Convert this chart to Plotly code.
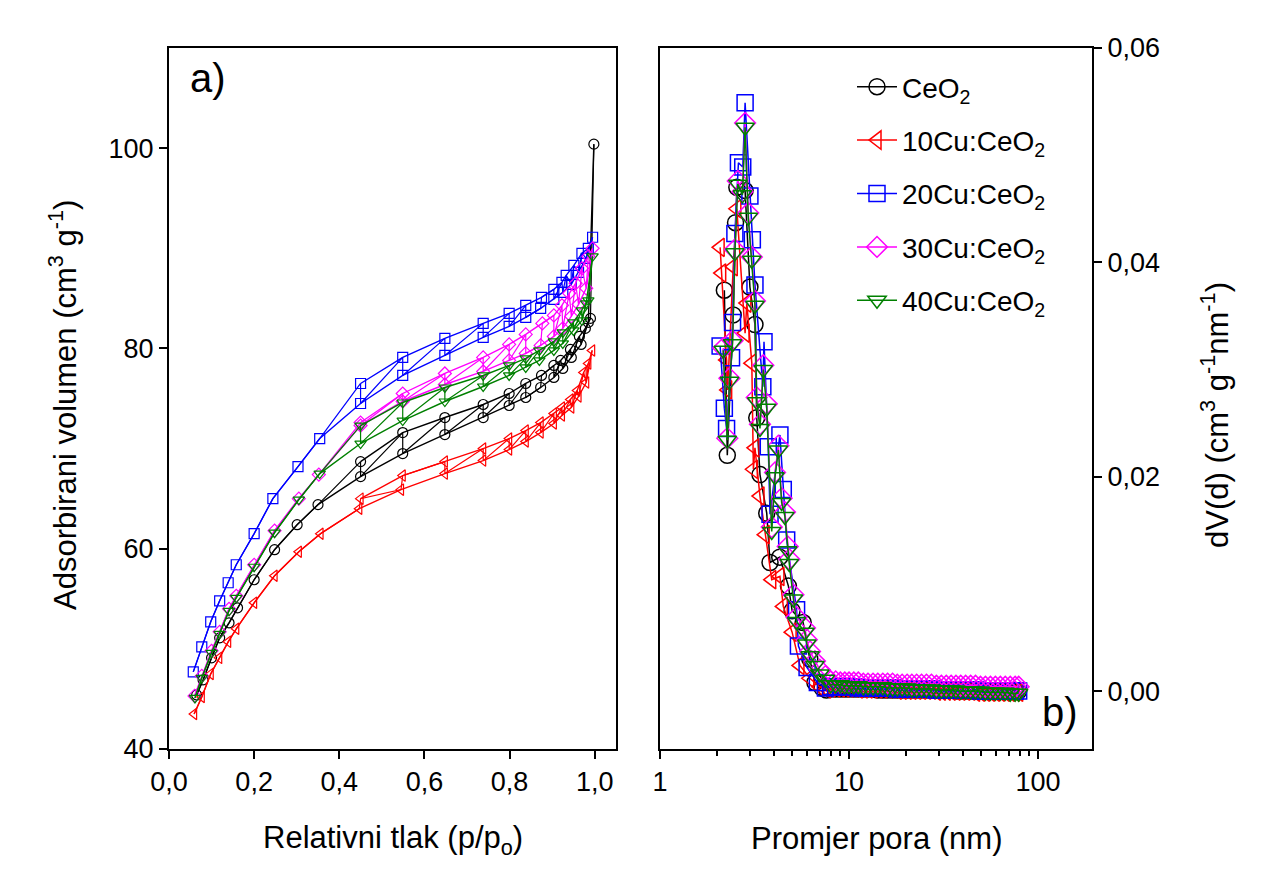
import plotly.graph_objects as go

# ---------------- panel a) isotherms (p/p0, cm3/g) ----------------
names = ["CeO<sub>2</sub>", "10Cu:CeO<sub>2</sub>", "20Cu:CeO<sub>2</sub>",
         "30Cu:CeO<sub>2</sub>", "40Cu:CeO<sub>2</sub>"]
colors = ["#000000", "#ff0000", "#0000ff", "#ff00ff", "#008000"]
symbols = ["circle-open", "triangle-left-open", "square-open", "diamond-open", "triangle-down-open"]

ceo2_ads_x = [0.065, 0.08, 0.1, 0.119, 0.141, 0.161, 0.2, 0.248, 0.301, 0.35, 0.45, 0.549, 0.648, 0.738, 0.799, 0.838, 0.873, 0.904, 0.925, 0.945, 0.968, 0.985, 0.998]
ceo2_ads_y = [45.4, 46.9, 49.1, 51.1, 52.6, 54.1, 56.9, 59.9, 62.4, 64.4, 67.2, 69.5, 71.4, 73.1, 74.3, 75.1, 76.1, 77.1, 78.0, 79.1, 80.4, 82.6, 100.4]
ceo2_des_x = [0.99, 0.978, 0.964, 0.943, 0.92, 0.904, 0.875, 0.838, 0.799, 0.738, 0.648, 0.549, 0.45]
ceo2_des_y = [83.0, 82.0, 81.2, 79.9, 78.8, 78.3, 77.3, 76.5, 75.5, 74.4, 73.1, 71.6, 68.7]

cu10_ads_x = [0.059, 0.077, 0.098, 0.118, 0.139, 0.158, 0.2, 0.248, 0.305, 0.356, 0.447, 0.545, 0.648, 0.738, 0.799, 0.838, 0.873, 0.904, 0.923, 0.945, 0.962, 0.98, 0.994]
cu10_ads_y = [43.5, 45.2, 47.5, 49.1, 50.7, 52.0, 54.6, 57.3, 59.7, 61.5, 64.0, 65.9, 67.5, 68.8, 69.9, 70.7, 71.6, 72.5, 73.3, 74.1, 75.2, 76.6, 79.8]
cu10_des_x = [0.985, 0.974, 0.959, 0.943, 0.923, 0.904, 0.873, 0.838, 0.799, 0.738, 0.648, 0.549, 0.45]
cu10_des_y = [78.5, 77.6, 75.8, 74.9, 74.1, 73.5, 72.6, 71.8, 71.0, 70.0, 68.7, 67.3, 65.0]

cu20_ads_x = [0.057, 0.077, 0.098, 0.119, 0.139, 0.158, 0.2, 0.244, 0.303, 0.354, 0.45, 0.549, 0.648, 0.738, 0.799, 0.838, 0.873, 0.904, 0.925, 0.945, 0.962, 0.98, 0.995]
cu20_ads_y = [47.7, 50.2, 52.7, 54.8, 56.6, 58.4, 61.5, 65.0, 68.2, 71.0, 74.5, 77.3, 79.3, 81.1, 82.2, 83.1, 84.0, 84.9, 85.6, 86.4, 87.6, 89.0, 91.1]
cu20_des_x = [0.985, 0.97, 0.951, 0.933, 0.923, 0.904, 0.875, 0.838, 0.799, 0.738, 0.648, 0.549, 0.45]
cu20_des_y = [90.0, 89.5, 88.3, 87.3, 86.6, 85.9, 85.1, 84.3, 83.5, 82.5, 81.0, 79.1, 76.5]

cu30_ads_x = [0.06, 0.077, 0.1, 0.119, 0.141, 0.158, 0.2, 0.248, 0.305, 0.352, 0.45, 0.549, 0.648, 0.738, 0.799, 0.838, 0.873, 0.904, 0.925, 0.945, 0.962, 0.98, 0.995]
cu30_ads_y = [45.3, 47.3, 49.8, 51.7, 54.0, 55.3, 58.4, 61.8, 65.0, 67.4, 72.3, 74.7, 76.4, 77.7, 78.8, 79.5, 80.3, 81.2, 82.0, 83.2, 84.4, 86.0, 90.0]
cu30_des_x = [0.985, 0.97, 0.955, 0.94, 0.923, 0.904, 0.877, 0.838, 0.799, 0.738, 0.648, 0.549, 0.45]
cu30_des_y = [89.2, 88.0, 86.5, 85.5, 84.3, 83.3, 82.5, 81.4, 80.4, 79.1, 77.5, 75.5, 72.6]

cu40_ads_x = [0.061, 0.077, 0.1, 0.119, 0.141, 0.158, 0.2, 0.248, 0.305, 0.354, 0.45, 0.549, 0.648, 0.738, 0.799, 0.838, 0.87, 0.904, 0.925, 0.95, 0.97, 0.98, 0.995]
cu40_ads_y = [45.1, 47.1, 49.6, 51.5, 53.8, 55.1, 58.2, 61.6, 64.9, 67.5, 70.5, 72.8, 74.7, 76.2, 77.3, 78.1, 78.8, 79.8, 80.5, 81.8, 82.8, 84.5, 89.2]
cu40_des_x = [0.985, 0.97, 0.95, 0.925, 0.904, 0.87, 0.838, 0.799, 0.738, 0.648, 0.549, 0.45]
cu40_des_y = [84.8, 83.8, 82.6, 81.6, 80.7, 79.8, 79.0, 78.3, 77.3, 76.1, 74.6, 72.3]

# ---------------- panel b) pore size distribution (nm, cm3 g-1 nm-1) ----------------
tail_d = [8.0, 8.5, 9.0, 9.5, 10.0, 10.6, 11.2, 11.9, 12.6, 13.4, 14.2, 15.1, 16.0, 17.0, 18.0, 19.1, 20.3, 21.5, 22.8, 24.2,
          25.7, 27.3, 29.0, 30.8, 32.7, 34.7, 36.8, 39.0, 41.4, 44.0, 46.7, 49.6, 52.7, 56.0, 59.5, 63.2, 67.1, 71.3, 75.7, 79.0]

ceo2_d = [2.19, 2.27, 2.44, 2.51, 2.55, 2.82, 2.99, 3.18, 3.25, 3.38, 3.67, 3.82, 4.3, 4.78, 5.0, 5.72, 6.2, 6.6, 7.2, 7.6]
ceo2_v = [0.0374, 0.0220, 0.0351, 0.0437, 0.0470, 0.0467, 0.0377, 0.0342, 0.0255, 0.0202, 0.0166, 0.0120, 0.0125, 0.0098, 0.0075, 0.0064, 0.0030, 0.0008, 0.0003, 0.0001]
ceo2_tail = [0.0002, 0.0002, 0.0002, 0.0002, 0.0002, 0.0002, 0.0002, 0.0002, 0.0002, 0.0002, 0.0001, 0.0001, 0.0001, 0.0001, 0.0001, 0.0001, 0.0001, 0.0001, 0.0001, 0.0001,
             0.0001, 0.0001, 0.0001, 0.0001, 0.0001, 0.0001, 0.0000, 0.0000, 0.0000, 0.0000, 0.0000, 0.0000, 0.0000, 0.0000, 0.0000, 0.0000, 0.0000, 0.0000, 0.0000, 0.0000]

cu10_d = [2.08, 2.12, 2.25, 2.28, 2.44, 2.55, 2.82, 2.88, 3.06, 3.12, 3.18, 3.38, 3.60, 3.90, 4.31, 4.49, 5.0, 5.5, 6.2, 7.0, 7.6]
cu10_v = [0.0414, 0.0390, 0.0309, 0.0281, 0.0396, 0.0450, 0.0334, 0.0362, 0.0306, 0.0207, 0.0227, 0.0182, 0.0146, 0.0104, 0.0107, 0.0079, 0.0055, 0.0024, 0.0012, 0.0004, 0.0002]
cu10_tail = [0.0003, 0.0003, 0.0003, 0.0003, 0.0003, 0.0003, 0.0002, 0.0002, 0.0002, 0.0002, 0.0002, 0.0002, 0.0002, 0.0002, 0.0001, 0.0001, 0.0001, 0.0001, 0.0001, 0.0001,
             0.0001, 0.0001, 0.0000, 0.0000, 0.0000, 0.0000, 0.0000, 0.0000, 0.0000, 0.0000, -0.0001, -0.0001, -0.0001, -0.0001, -0.0001, -0.0001, -0.0001, -0.0001, -0.0001, -0.0001]

cu20_d = [2.08, 2.19, 2.25, 2.39, 2.42, 2.49, 2.60, 2.74, 2.82, 2.99, 3.08, 3.18, 3.50, 3.55, 3.74, 3.82, 4.31, 4.49, 4.68, 5.28, 5.4, 6.0, 6.8, 7.5]
cu20_v = [0.0322, 0.0264, 0.0245, 0.0311, 0.0344, 0.0427, 0.0493, 0.0489, 0.0549, 0.0462, 0.0421, 0.0379, 0.0284, 0.0326, 0.0228, 0.0165, 0.0239, 0.0188, 0.0141, 0.0076, 0.0042, 0.0022, 0.0008, 0.0003]
cu20_tail = [0.0004, 0.0004, 0.0004, 0.0004, 0.0004, 0.0004, 0.0003, 0.0003, 0.0003, 0.0003, 0.0003, 0.0003, 0.0003, 0.0003, 0.0002, 0.0002, 0.0002, 0.0002, 0.0002, 0.0002,
             0.0002, 0.0002, 0.0001, 0.0001, 0.0001, 0.0001, 0.0001, 0.0001, 0.0001, 0.0001, 0.0001, 0.0000, 0.0000, 0.0000, 0.0000, 0.0000, 0.0000, 0.0000, 0.0000, 0.0000]

cu30_d = [2.16, 2.27, 2.33, 2.42, 2.49, 2.58, 2.73, 2.82, 2.93, 3.06, 3.18, 3.25, 3.38, 3.52, 3.67, 3.90, 4.06, 4.23, 4.40, 4.58, 4.74, 4.83, 5.08, 5.28, 5.85, 5.98, 6.22, 6.6, 7.0, 7.5]
cu30_v = [0.0320, 0.0236, 0.0292, 0.0327, 0.0412, 0.0476, 0.0466, 0.0530, 0.0446, 0.0405, 0.0364, 0.0274, 0.0249, 0.0304, 0.0268, 0.0153, 0.0204, 0.0229, 0.0180, 0.0167, 0.0135, 0.0123, 0.0090, 0.0069, 0.0059, 0.0048, 0.0037, 0.0028, 0.0020, 0.0014]
cu30_tail = [0.0009, 0.0009, 0.0008, 0.0008, 0.0008, 0.0008, 0.0008, 0.0007, 0.0007, 0.0007, 0.0007, 0.0007, 0.0007, 0.0007, 0.0006, 0.0006, 0.0006, 0.0006, 0.0006, 0.0006,
             0.0006, 0.0006, 0.0005, 0.0005, 0.0005, 0.0005, 0.0005, 0.0005, 0.0005, 0.0005, 0.0005, 0.0004, 0.0004, 0.0004, 0.0004, 0.0004, 0.0004, 0.0004, 0.0004, 0.0004]

cu40_d = [2.16, 2.27, 2.33, 2.42, 2.49, 2.58, 2.73, 2.82, 2.93, 3.06, 3.18, 3.25, 3.38, 3.52, 3.67, 3.90, 4.06, 4.23, 4.40, 4.58, 4.74, 4.83, 5.08, 5.28, 5.85, 5.98, 6.22, 6.6, 7.0, 7.5]
cu40_v = [0.0318, 0.0234, 0.0289, 0.0324, 0.0409, 0.0473, 0.0463, 0.0526, 0.0442, 0.0402, 0.0360, 0.0270, 0.0245, 0.0300, 0.0264, 0.0149, 0.0200, 0.0225, 0.0176, 0.0163, 0.0131, 0.0119, 0.0086, 0.0065, 0.0055, 0.0044, 0.0033, 0.0024, 0.0016, 0.0011]
cu40_tail = [0.0006, 0.0006, 0.0006, 0.0005, 0.0005, 0.0005, 0.0005, 0.0004, 0.0004, 0.0004, 0.0004, 0.0004, 0.0003, 0.0003, 0.0003, 0.0003, 0.0003, 0.0002, 0.0002, 0.0002,
             0.0002, 0.0002, 0.0001, 0.0001, 0.0001, 0.0001, 0.0001, 0.0000, 0.0000, 0.0000, 0.0000, 0.0000, -0.0001, -0.0001, -0.0001, -0.0001, -0.0001, -0.0002, -0.0002, -0.0002]

iso = [(ceo2_ads_x, ceo2_ads_y, ceo2_des_x, ceo2_des_y),
       (cu10_ads_x, cu10_ads_y, cu10_des_x, cu10_des_y),
       (cu20_ads_x, cu20_ads_y, cu20_des_x, cu20_des_y),
       (cu30_ads_x, cu30_ads_y, cu30_des_x, cu30_des_y),
       (cu40_ads_x, cu40_ads_y, cu40_des_x, cu40_des_y)]
psd = [(ceo2_d, ceo2_v, ceo2_tail), (cu10_d, cu10_v, cu10_tail), (cu20_d, cu20_v, cu20_tail),
       (cu30_d, cu30_v, cu30_tail), (cu40_d, cu40_v, cu40_tail)]

FONT = "Liberation Sans, Arial, sans-serif"
W, H = 1268, 895
OFF = 8  # page offset of the plot div inside the browser window


def px_x(x):
    return (x - OFF) / W


def px_y(y):
    return 1 - (y - OFF) / H


fig = go.Figure()

for i, (ax, ay, dx, dy) in enumerate(iso):
    c = colors[i]
    # points in pressure order (both branches mixed) -> hatch between branches
    pts = sorted([(x, 1, y) for x, y in zip(ax, ay)] + [(x, 0, y) for x, y in zip(dx, dy)],
                 key=lambda t: (t[0], t[1]))
    fig.add_trace(go.Scatter(x=[p[0] for p in pts], y=[p[2] for p in pts], mode="lines",
                             line=dict(color=c, width=1.2), xaxis="x", yaxis="y",
                             showlegend=False, hoverinfo="skip"))
    for bx, by in ((ax, ay), (dx, dy)):
        fig.add_trace(go.Scatter(x=bx, y=by, mode="lines+markers",
                                 line=dict(color=c, width=1.4),
                                 marker=dict(symbol=symbols[i], size=10, color=c, line=dict(width=1.2)),
                                 xaxis="x", yaxis="y", showlegend=False))

for i, (d, v, t) in enumerate(psd):
    c = colors[i]
    fig.add_trace(go.Scatter(x=list(d) + tail_d, y=list(v) + t, mode="lines+markers", name=names[i],
                             line=dict(color=c, width=1.5),
                             marker=dict(symbol=symbols[i], size=16, color=c, line=dict(width=1.5)),
                             xaxis="x2", yaxis="y2", legendgroup=str(i), showlegend=True))

ydom = [px_y(749), px_y(48)]
axis_common = dict(showline=True, linecolor="black", linewidth=2, mirror=True, ticks="outside",
                   ticklen=8, tickwidth=2, tickcolor="black", showgrid=False, zeroline=False,
                   automargin=False,
                   tickfont=dict(family=FONT, size=27, color="black"))
fig.update_layout(
    width=W, height=H, margin=dict(l=0, r=0, t=0, b=0, autoexpand=False),
    paper_bgcolor="white", plot_bgcolor="white", separators=", ",
    xaxis=dict(domain=[px_x(169), px_x(616)], range=[0, 1.05], tickvals=[0, 0.2, 0.4, 0.6, 0.8, 1.0],
               tickformat=".1f", anchor="y", **axis_common),
    yaxis=dict(domain=ydom, range=[40, 110], tickvals=[40, 60, 80, 100], anchor="x",
               ticksuffix="\u00a0", **axis_common),
    xaxis2=dict(domain=[px_x(660), px_x(1092)], type="log", range=[0, 2.2856], dtick=1, anchor="y2",
                minor=dict(ticks="outside", ticklen=5, tickwidth=1.5, tickcolor="black", showgrid=False),
                **axis_common),
    yaxis2=dict(domain=ydom, range=[-0.0054, 0.06], tickvals=[0, 0.02, 0.04, 0.06], tickformat=".2f",
                anchor="x2", side="right", tickprefix="\u00a0\u00a0", **axis_common),
    legend=dict(x=px_x(852), y=px_y(62), xanchor="left", yanchor="top", bgcolor="rgba(0,0,0,0)",
                font=dict(family=FONT, size=28, color="black"), tracegroupgap=14, itemwidth=40),
    showlegend=True,
)

ann = [
    dict(text="Adsorbirani volumen (cm<sup>3</sup> g<sup>-1</sup>)", x=63, y=405, textangle=-90, size=31),
    dict(text="dV(d) (cm<sup>3</sup> g<sup>-1</sup>nm<sup>-1</sup>)", x=1215, y=415, textangle=-90, size=31),
    dict(text="Relativni tlak (p/p<sub>o</sub>)", x=393, y=840, textangle=0, size=31),
    dict(text="Promjer pora (nm)", x=877, y=838, textangle=0, size=31),
    dict(text="a)", x=208, y=78, textangle=0, size=40),
    dict(text="b)", x=1060, y=712, textangle=0, size=40),
]
for a in ann:
    fig.add_annotation(text=a["text"], x=px_x(a["x"]), y=px_y(a["y"]), xref="paper", yref="paper",
                       xanchor="center", yanchor="middle", textangle=a["textangle"], showarrow=False,
                       font=dict(family=FONT, size=a["size"], color="black"))

fig.write_html("out.html")
